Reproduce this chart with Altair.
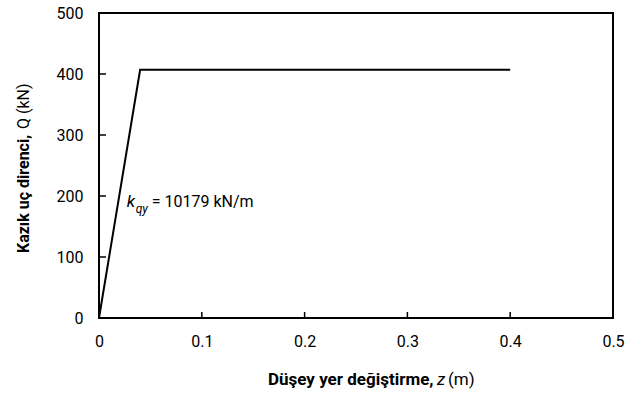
import altair as alt
import pandas as pd

# Pile tip resistance curve: linear up to yield, then constant
z_m = [0.0, 0.04, 0.40]
q_kn = [0.0, 407.0, 407.0]

x_ticks = [0, 0.1, 0.2, 0.3, 0.4, 0.5]
y_ticks = [0, 100, 200, 300, 400, 500]

FONT = "Roboto"
W, H = 514, 305

curve = pd.DataFrame({"z": z_m, "Q": q_kn})
xt = pd.DataFrame({"t": x_ticks})
yt = pd.DataFrame({"t": y_ticks})

xs = alt.Scale(domain=[0, 0.5], nice=False, zero=True)
ys = alt.Scale(domain=[0, 500], nice=False)

x_axis = alt.Axis(values=x_ticks, format="~g", ticks=False, domain=False, grid=False,
                  labelFlush=False,
                  labelFont=FONT, labelFontSize=16, labelColor="black", labelPadding=15,
                  title=None)
y_axis = alt.Axis(values=y_ticks, format="d", ticks=False, domain=False, grid=False,
                  labelFlush=False,
                  labelFont=FONT, labelFontSize=16, labelColor="black", labelPadding=16,
                  title=None)

line = alt.Chart(curve).mark_line(color="black", strokeWidth=2).encode(
    x=alt.X("z:Q", scale=xs, axis=x_axis),
    y=alt.Y("Q:Q", scale=ys, axis=y_axis),
)

# inward-facing tick marks
xtick = alt.Chart(xt).mark_rule(color="black", strokeWidth=1.5).encode(
    x=alt.X("t:Q", scale=xs), y=alt.value(H), y2=alt.value(H - 6))
ytick = alt.Chart(yt).mark_rule(color="black", strokeWidth=1.5).encode(
    y=alt.Y("t:Q", scale=ys), x=alt.value(0), x2=alt.value(7))

# stiffness annotation k_qy = 10179 kN/m
ann = pd.DataFrame({"z": [0.027], "Q": [182]})
enc = dict(x=alt.X("z:Q", scale=xs), y=alt.Y("Q:Q", scale=ys))
k_main = alt.Chart(ann).mark_text(text="k", font=FONT, fontSize=17, fontStyle="italic",
                                  align="left", baseline="alphabetic").encode(**enc)
k_sub = alt.Chart(ann).mark_text(text="qy", font=FONT, fontSize=12, fontStyle="italic",
                                 align="left", baseline="alphabetic", dx=9, dy=6).encode(**enc)
k_rest = alt.Chart(ann).mark_text(text="= 10179 kN/m", font=FONT, fontSize=16,
                                  align="left", baseline="alphabetic", dx=25).encode(**enc)

# axis titles built from bold / italic / regular pieces
one = pd.DataFrame({"a": [0]})
XS, YS = 17, 16
XB = 372
x_t1 = alt.Chart(one).mark_text(text="Düşey yer değiştirme,", font=FONT, fontSize=XS,
                                fontWeight="bold", align="left", baseline="alphabetic").encode(
    x=alt.value(169), y=alt.value(XB))
x_t2 = alt.Chart(one).mark_text(text="z", font=FONT, fontSize=XS, fontStyle="italic",
                                align="left", baseline="alphabetic").encode(
    x=alt.value(338), y=alt.value(XB))
x_t3 = alt.Chart(one).mark_text(text="(m)", font=FONT, fontSize=XS,
                                align="left", baseline="alphabetic").encode(
    x=alt.value(349), y=alt.value(XB))
y_t1 = alt.Chart(one).mark_text(text="Kazık uç direnci,", font=FONT, fontSize=YS,
                                fontWeight="bold", angle=270, align="left",
                                baseline="middle").encode(
    x=alt.value(-75), y=alt.value(240))
y_t2 = alt.Chart(one).mark_text(text="Q (kN)", font=FONT, fontSize=YS, angle=270,
                                align="left", baseline="middle").encode(
    x=alt.value(-75), y=alt.value(116))

chart = alt.layer(line, xtick, ytick, k_main, k_sub, k_rest,
                  x_t1, x_t2, x_t3, y_t1, y_t2).properties(
    width=W, height=H,
    autosize=alt.AutoSizeParams(type="none"),
    padding={"left": 99, "top": 13, "right": 23, "bottom": 79},
    background="white",
).configure_view(stroke="black", strokeWidth=2)

chart.save("out.html", embed_options={"renderer": "svg", "actions": False})
